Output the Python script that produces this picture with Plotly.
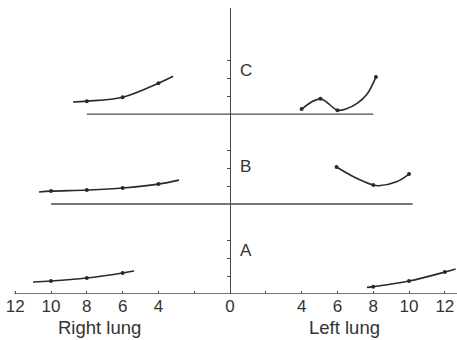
import plotly.graph_objects as go

# ---- data (distance from midline; right lung drawn to the left of 0) ----
tick_vals = [-12, -10, -8, -6, -4, -2, 0, 2, 4, 6, 8, 10, 12]
tick_text = ["12", "10", "8", "6", "4", "", "0", "", "4", "6", "8", "10", "12"]

panel_offset = {"A": 0, "B": 5, "C": 10}
panel_label_y = {"A": 2.4, "B": 2.1, "C": 2.45}
baseline_extent = {"A": (-12.05, 12.7), "B": (-10.0, 10.2), "C": (-8.0, 8.0)}

# measured points
C_right_x = [8, 6, 4]
C_right_y = [0.72, 0.94, 1.72]
C_right_curve_x = [8.77, 8, 6, 4, 3.18]
C_right_curve_y = [0.67, 0.72, 0.94, 1.72, 2.11]

C_left_x = [4, 5.05, 6, 8.15]
C_left_y = [0.28, 0.85, 0.22, 2.06]
C_left_curve_x = [4, 5.05, 6, 6.5, 7.1, 7.65, 8.15]
C_left_curve_y = [0.28, 0.85, 0.22, 0.3, 0.6, 1.11, 2.06]

B_right_x = [10, 8, 6, 4]
B_right_y = [0.72, 0.78, 0.89, 1.11]
B_right_curve_x = [10.67, 10, 8, 6, 4, 2.85]
B_right_curve_y = [0.67, 0.72, 0.78, 0.89, 1.11, 1.33]

B_left_x = [5.95, 8, 10]
B_left_y = [2.06, 1.06, 1.67]
B_left_curve_x = [5.95, 6.9, 8, 8.3, 9.3, 10]
B_left_curve_y = [2.06, 1.52, 1.06, 1.02, 1.24, 1.67]

A_right_x = [10, 8, 6]
A_right_y = [0.72, 0.89, 1.17]
A_right_curve_x = [11.0, 10, 8, 6, 5.36]
A_right_curve_y = [0.67, 0.72, 0.89, 1.17, 1.28]

A_left_x = [8, 10, 12]
A_left_y = [0.41, 0.72, 1.22]
A_left_curve_x = [7.65, 8, 10, 12, 12.6]
A_left_curve_y = [0.37, 0.41, 0.72, 1.22, 1.39]

side_labels = ["Right lung", "Left lung"]
side_label_x = [-7.3, 6.4]

series = [
    ("C", -1, C_right_x, C_right_y, C_right_curve_x, C_right_curve_y),
    ("C", 1, C_left_x, C_left_y, C_left_curve_x, C_left_curve_y),
    ("B", -1, B_right_x, B_right_y, B_right_curve_x, B_right_curve_y),
    ("B", 1, B_left_x, B_left_y, B_left_curve_x, B_left_curve_y),
    ("A", -1, A_right_x, A_right_y, A_right_curve_x, A_right_curve_y),
    ("A", 1, A_left_x, A_left_y, A_left_curve_x, A_left_curve_y),
]

ink = "#2a2a2a"
axis_ink = "#4a4a4a"
font_family = "Liberation Sans, Arial, sans-serif"

fig = go.Figure()

# baselines of each panel
for p, (x0, x1) in baseline_extent.items():
    fig.add_trace(go.Scatter(x=[x0, x1], y=[panel_offset[p]] * 2, mode="lines",
                             line=dict(color=axis_ink, width=1.4),
                             hoverinfo="skip", showlegend=False, cliponaxis=False))

for p, side, mx, my, cx, cy in series:
    off = panel_offset[p]
    fig.add_trace(go.Scatter(x=[side * v for v in cx], y=[off + v for v in cy],
                             mode="lines", line=dict(color=ink, width=1.6, shape="spline"),
                             showlegend=False, cliponaxis=False))
    fig.add_trace(go.Scatter(x=[side * v for v in mx], y=[off + v for v in my],
                             mode="markers", marker=dict(color=ink, size=4),
                             showlegend=False, cliponaxis=False))

for p in panel_offset:
    fig.add_annotation(x=0.45, y=panel_offset[p] + panel_label_y[p], text=p,
                       xanchor="left", yanchor="middle", showarrow=False,
                       font=dict(size=17, color="#333", family=font_family))

for txt, lx in zip(side_labels, side_label_x):
    fig.add_annotation(x=lx, xref="x", y=-0.118, yref="paper", text=txt,
                       showarrow=False, xanchor="center", yanchor="middle",
                       font=dict(size=18.5, color="#333", family=font_family))

x_range = [-12.85, 12.68]
fig.update_layout(
    width=457, height=340,
    margin=dict(l=0, r=0, t=8, b=46),
    paper_bgcolor="white", plot_bgcolor="white",
    xaxis=dict(range=x_range, tickvals=tick_vals, ticktext=tick_text,
               ticks="inside", ticklen=3, tickcolor=axis_ink, tickwidth=1.2,
               showline=False, showgrid=False, zeroline=False,
               tickfont=dict(size=17, color="#333", family=font_family)),
    yaxis=dict(range=[0, 15.9], tickvals=[1, 2, 3, 6, 7, 8, 11, 12, 13],
               showticklabels=False, ticks="outside", ticklen=3, tickcolor=axis_ink,
               showline=True, linecolor=axis_ink, linewidth=1.4,
               anchor="free", position=(0 - x_range[0]) / (x_range[1] - x_range[0]),
               showgrid=False, zeroline=False),
)

fig.write_html("out.html")
